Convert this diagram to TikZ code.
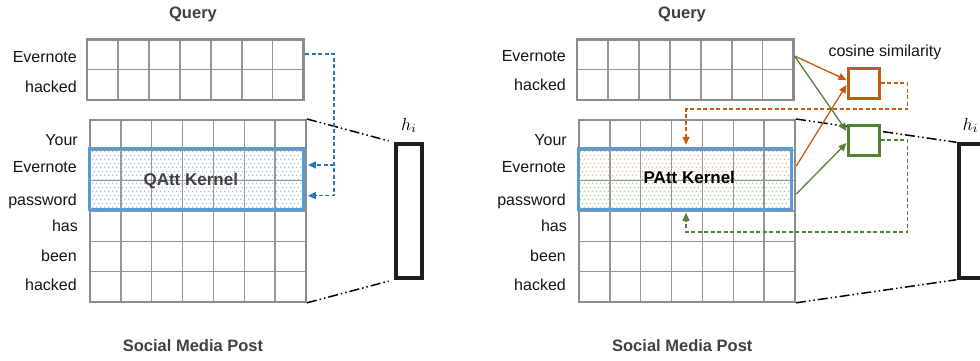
\documentclass[tikz,border=0pt]{standalone}
\usepackage{fontspec}
\setmainfont{Liberation Sans}
\usetikzlibrary{arrows.meta,patterns.meta}

\definecolor{gridgray}{RGB}{140,140,140}
\definecolor{gridin}{RGB}{150,150,150}
\definecolor{titlegray}{RGB}{64,64,64}
\definecolor{txt}{RGB}{20,20,20}
\definecolor{kblue}{RGB}{91,155,213}
\definecolor{dblue}{RGB}{46,117,182}
\definecolor{bluedot}{RGB}{120,172,222}
\definecolor{corange}{RGB}{197,90,17}
\definecolor{orangedot}{RGB}{240,150,95}
\definecolor{cgreen}{RGB}{84,130,53}
\definecolor{greendot}{RGB}{135,195,100}
\definecolor{hblack}{RGB}{30,30,30}

\tikzdeclarepattern{
  name=kdots,
  type=uncolored,
  bounding box={(0pt,0pt) and (4pt,8pt)},
  tile size={(4pt,8pt)},
  code={\fill (1pt,2pt) circle (0.75pt); \fill (3pt,6pt) circle (0.75pt);}
}

\begin{document}
\begin{tikzpicture}[x=1pt,y=-1pt,
  lbl/.style={font=\fontsize{16}{19}\selectfont, text=txt, anchor=base east, inner sep=0pt},
  ttl/.style={font=\fontsize{16.5}{20}\selectfont\bfseries, text=titlegray, anchor=base, inner sep=0pt},
  kttl/.style={font=\fontsize{17}{20}\selectfont\bfseries, anchor=base, inner sep=0pt},
  hlbl/.style={anchor=base, inner sep=0pt},
  qbox/.style={draw=gridgray, line width=2.6pt, inner sep=0pt, minimum width=216.7pt, minimum height=60.5pt},
  pbox/.style={draw=gridgray, line width=2pt, inner sep=0pt, minimum width=216pt, minimum height=181.8pt},
  gin/.style={draw=gridin, line width=1.4pt},
  kbox/.style={draw=kblue, line width=3pt, inner sep=0pt, minimum width=213.5pt, minimum height=61pt},
  hbox/.style={draw=hblack, line width=3.2pt, inner sep=0pt, minimum width=26pt, minimum height=134pt},
  cbox/.style={line width=3pt, inner sep=0pt, minimum width=31pt, minimum height=30pt, fill=white},
  dd/.style={line width=1.5pt, draw=black, dash pattern=on 10pt off 3pt on 1.5pt off 3pt on 1.5pt off 3pt},
  arr/.style={-{Triangle[length=8pt,width=7pt]}, line width=1.3pt},
  dsh/.style={dash pattern=on 4pt off 2.5pt, line width=1.3pt},
]
\useasboundingbox (0,0) rectangle (980,360);

% ================= LEFT PANEL =================
\node[ttl] (qt1) at (193,18.5) {Query};
\node[ttl] (st1) at (193,351.5) {Social Media Post};

% query grid
\draw[gin] (87,69.75) -- (303.7,69.75);
\foreach \i in {1,...,6} \draw[gin] (87+\i*30.96,39.5) -- (87+\i*30.96,100);
\node[qbox] (q1) at (195.35,69.75) {};
\node[lbl] (lq1a) at (77,62.5) {Evernote};
\node[lbl] (lq1b) at (77,92.5) {hacked};

% post grid
\foreach \j in {1,...,5} \draw[gin] (90,120+\j*30.3) -- (306,120+\j*30.3);
\foreach \i in {1,...,6} \draw[gin] (90+\i*30.86,120) -- (90+\i*30.86,301.8);
\node[pbox] (p1) at (198,210.9) {};
\node[kbox, pattern=kdots, pattern color=bluedot] (k1) at (196.3,178.8) {};
\node[kttl, text=titlegray] (k1t) at (190.8,185) {QAtt Kernel};

\node[lbl] (lp1a) at (78,145) {Your};
\node[lbl] (lp1b) at (77,172.7) {Evernote};
\node[lbl] (lp1c) at (77,205) {password};
\node[lbl] (lp1d) at (78,231.7) {has};
\node[lbl] (lp1e) at (77,261) {been};
\node[lbl] (lp1f) at (77,290.7) {hacked};

% hidden vector
\node[hbox] (h1) at (409,211) {};
\node[hlbl] (h1t) at (409,130) {\scalebox{1.75}{$h_i$}};
\draw[dd, shorten >=6pt] (p1.north east) -- (h1.north west);
\draw[dd, shorten >=6pt] (p1.south east) -- (h1.south west);

% blue dashed arrows
\coordinate (bj1) at (334,165);
\coordinate (bj2) at (334,195.7);
\draw[dsh, color=dblue, arr] ([yshift=15.75pt]q1.east) -| (bj2) -- ([xshift=3.4pt,yshift=-16.9pt]k1.east);
\draw[dsh, color=dblue, arr] (bj1) -- ([xshift=3.4pt,yshift=13.8pt]k1.east);

% ================= RIGHT PANEL =================
\node[ttl] (qt2) at (682,18.5) {Query};
\node[ttl] (st2) at (682.3,351.5) {Social Media Post};

% query grid
\draw[gin] (577,69.75) -- (793.7,69.75);
\foreach \i in {1,...,6} \draw[gin] (577+\i*30.96,39.5) -- (577+\i*30.96,100);
\node[qbox] (q2) at (685.35,69.75) {};
\node[lbl] (lq2a) at (566,61.7) {Evernote};
\node[lbl] (lq2b) at (566,90.7) {hacked};

% post grid
\fill[pattern=kdots, pattern color=orangedot] (578.3,148.3) rectangle (791.7,178.8);
\fill[pattern=kdots, pattern color=greendot] (578.3,178.8) rectangle (791.7,209.3);
\foreach \j in {1,...,5} \draw[gin] (579,120+\j*30.3) -- (795,120+\j*30.3);
\foreach \i in {1,...,6} \draw[gin] (579+\i*30.86,120) -- (579+\i*30.86,301.8);
\node[pbox] (p2) at (687,210.9) {};
\node[kbox] (k2) at (685,178.8) {};
\node[kttl, text=black] (k2t) at (689.3,183.3) {PAtt Kernel};

\node[lbl] (lp2a) at (567,145) {Your};
\node[lbl] (lp2b) at (566,172.7) {Evernote};
\node[lbl] (lp2c) at (566,205) {password};
\node[lbl] (lp2d) at (567,231.7) {has};
\node[lbl] (lp2e) at (566,261) {been};
\node[lbl] (lp2f) at (566,290) {hacked};

% hidden vector
\node[hbox] (h2) at (972,211) {};
\node[hlbl] (h2t) at (970.5,130) {\scalebox{1.75}{$h_i$}};
\draw[dd, shorten >=1pt] (p2.north east) -- (h2.north west);
\draw[dd, shorten >=1pt] (p2.south east) -- (h2.south west);

% cosine similarity boxes
\node[font=\fontsize{16}{19}\selectfont, text=txt, anchor=base, inner sep=0pt] (cs) at (885,56.7) {cosine similarity};
\coordinate (qo) at (794.5,56);
\node[cbox, draw=corange] (cO) at (863.5,83) {};
\node[cbox, draw=cgreen] (cG) at (863.5,140) {};

\draw[arr, color=corange] (qo) -- ([yshift=3pt]cO.west);
\draw[arr, color=corange] ([xshift=3pt,yshift=12.8pt]k2.east) -- ([yshift=-2pt]cO.west);
\draw[arr, color=cgreen] (qo) -- ([yshift=9pt]cG.west);
\draw[arr, color=cgreen] ([xshift=3pt,yshift=-15.2pt]k2.east) -- ([yshift=-3pt]cG.west);

% dashed feedback arrows
\draw[dsh, arr, color=corange] (cO.east) -- ++(27,0) -- ++(0,26) -| ([xshift=1pt,yshift=2pt]k2.north);
\draw[dsh, arr, color=cgreen] (cG.east) -- ++(27,0) -- ++(0,92) -| ([xshift=1pt,yshift=-2pt]k2.south);

\end{tikzpicture}
\end{document}
